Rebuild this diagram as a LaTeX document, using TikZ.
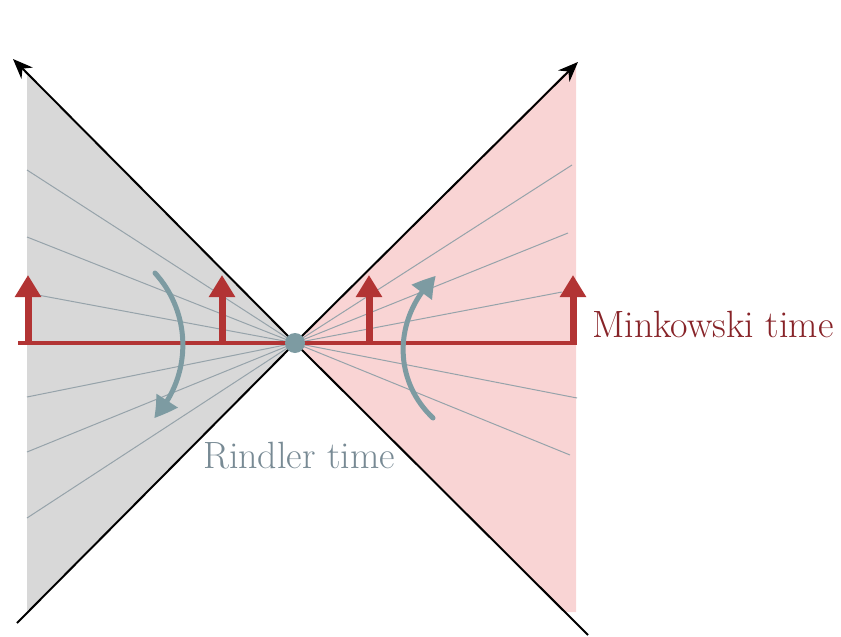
\documentclass[tikz,border=0pt]{standalone}
\usepackage{fontspec}
\usetikzlibrary{arrows.meta,bending}
\definecolor{wedgegray}{RGB}{216,216,216}
\definecolor{wedgepink}{RGB}{249,212,212}
\definecolor{slicegray}{RGB}{150,163,170}
\definecolor{minkred}{RGB}{178,52,52}
\definecolor{minktext}{RGB}{135,35,40}
\definecolor{rindblue}{RGB}{125,155,162}
\definecolor{rindtext}{RGB}{120,138,148}
\tikzset{
  slice/.style={draw=slicegray, line width=1pt},
  horizon/.style={draw=black, line width=2pt},
  horizontip/.style={-{Stealth[length=20pt,width=16pt]}},
  minkarrow/.style={draw=minkred, line width=7pt, -{Triangle[width=25pt,length=22pt]}},
  rindarrow/.style={draw=rindblue, line width=5pt, line cap=round, -{Triangle[width=24pt,length=22pt,bend]}},
  label/.style={inner sep=0pt, font=\fontsize{38}{44}\selectfont}
}
\begin{document}
\begin{tikzpicture}[x=1pt,y=-1pt]
\useasboundingbox (0,0) rectangle (841,637);
% geometry
\coordinate (o) at (295,343);
\coordinate (tl) at (13,59);
\coordinate (bl) at (17,623);
\coordinate (tr) at (578,62);
\coordinate (br) at (588,635);
% wedges
\fill[wedgegray] (27,75) -- (o) -- (27,611) -- cycle;
\fill[wedgepink] (576,62) -- (o) -- (564,612) -- (576,612) -- cycle;
% Rindler slices
\foreach \y [count=\i] in {170,237,293,397,452,518}
  {\coordinate (l\i) at (27,\y); \draw[slice] (o) -- (l\i);}
\coordinate (r1) at (572,165);
\coordinate (r2) at (568,233);
\coordinate (r3) at (562,292);
\coordinate (r4) at (577,398);
\coordinate (r5) at (570,455);
\foreach \i in {1,...,5} {\draw[slice] (o) -- (r\i);}
% Minkowski slice
\coordinate (ml) at (18,343);
\coordinate (mr) at (577,343);
\draw[draw=minkred, line width=3.5pt] (ml) -- (mr);
% horizons
\draw[horizon, horizontip] (o) -- (tl);
\draw[horizon, horizontip] (o) -- (tr);
\draw[horizon] (o) -- (bl);
\draw[horizon] (o) -- (br);
% Minkowski arrows
\foreach \x [count=\i] in {28,222,369,573}
  {\coordinate (ma\i) at (\x,343); \coordinate (mb\i) at (\x,275);
   \draw[minkarrow] (ma\i) -- (mb\i);}
% Rindler arrows
\coordinate (la) at (155,273);
\coordinate (lb) at (154,418);
\draw[rindarrow] (la) .. controls (192.3,314) and (192.3,377) .. (lb);
\coordinate (ra) at (433,418);
\coordinate (rb) at (436,276);
\draw[rindarrow] (ra) .. controls (391.7,379) and (393.7,316) .. (rb);
% bifurcation point
\node[circle, fill=rindblue, minimum size=20pt, inner sep=0pt] (dot) at (o) {};
% labels
\node[label, text=minktext, anchor=base west] (mink) at (592,337) {Minkowski time};
\node[label, text=rindtext, anchor=base west] (rind) at (203,468) {Rindler time};
\end{tikzpicture}
\end{document}
